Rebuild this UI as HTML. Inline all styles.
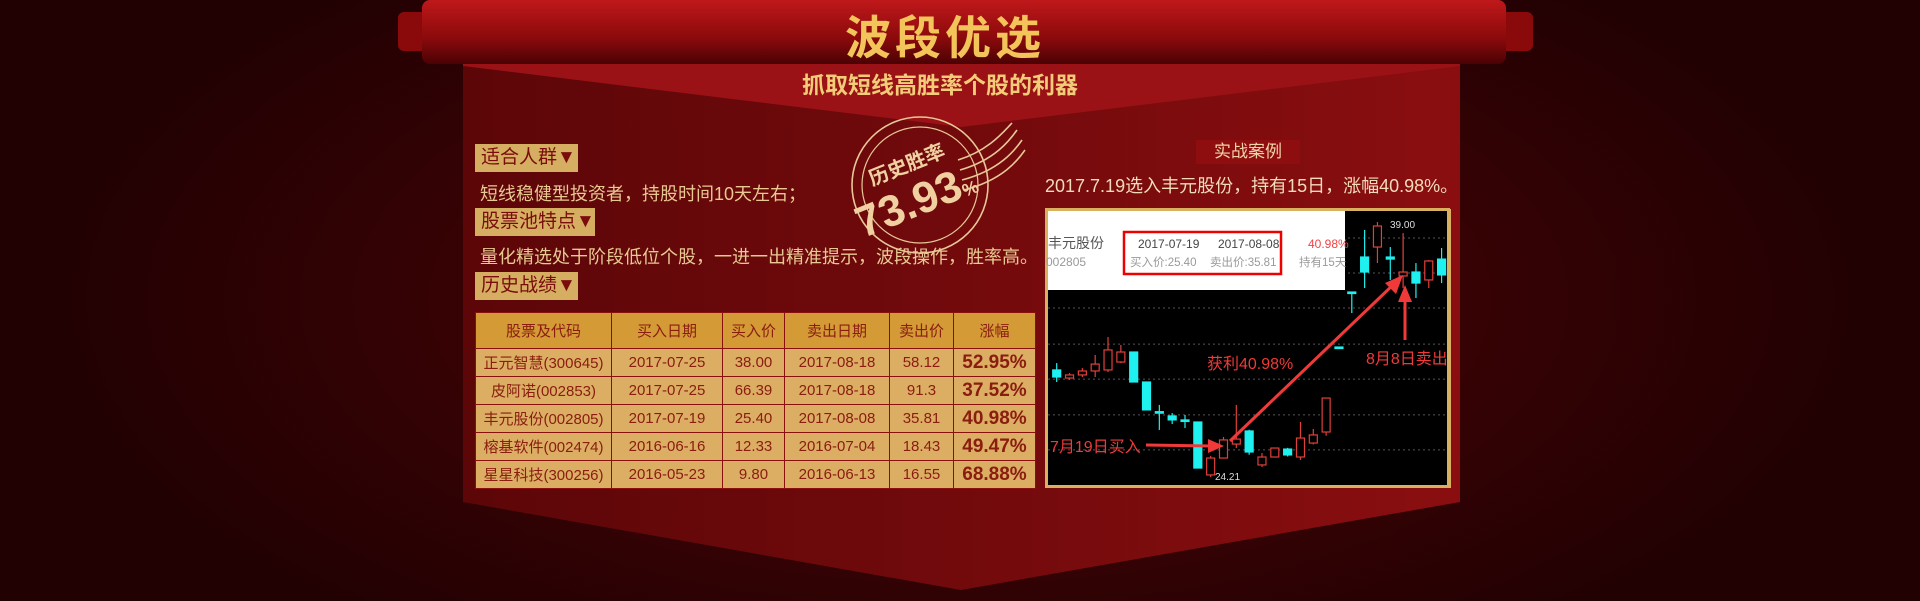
<!DOCTYPE html>
<html><head><meta charset="utf-8"><style>
*{margin:0;padding:0;box-sizing:border-box}
body{width:1920px;height:601px;overflow:hidden;position:relative;font-family:"Liberation Sans","Noto Sans CJK SC",sans-serif;
background:radial-gradient(ellipse 900px 420px at 960px 300px,#5a0508 0%,#3c0204 45%,#220103 100%);}
.abs{position:absolute}
.lbl{position:absolute;background:#d6ae62;color:#7a0c0c;font-size:19px;line-height:28px;padding-left:6px;}
.txt{position:absolute;color:#e9c992;font-size:18px;white-space:nowrap}
table{position:absolute;left:475px;top:312px;width:560px;border-collapse:collapse;table-layout:fixed;font-size:15px;color:#8a1c10}
td,th{border:1px solid #8a1010;text-align:center;font-weight:normal;height:28px;padding:0;white-space:nowrap;overflow:hidden}
th{background:#d39a36;height:36px}
td{background:#dcae64}
td.p{font-weight:bold;font-size:19px}
</style></head><body>
<svg class="abs" style="left:0;top:0" width="1920" height="601">
 <defs>
  <linearGradient id="rib" x1="0" y1="0" x2="0" y2="1"><stop offset="0" stop-color="#c0181a"/><stop offset="0.6" stop-color="#8a0a0c"/><stop offset="1" stop-color="#4a0204"/></linearGradient>
  <linearGradient id="pan" x1="0" y1="0" x2="1" y2="0"><stop offset="0" stop-color="#5c0608"/><stop offset="0.5" stop-color="#720a0c"/><stop offset="1" stop-color="#8a0e10"/></linearGradient>
 </defs>
 <polygon points="463,60 1460,60 1460,502 961,590 463,502" fill="url(#pan)"/>
 <polygon points="463,60 1460,60 1460,66 961,127 463,66" fill="#9a1216"/>
 <rect x="398" y="12" width="40" height="39" rx="6" fill="#8a0a0c"/>
 <rect x="1493" y="12" width="40" height="39" rx="6" fill="#8a0a0c"/>
 <rect x="422" y="0" width="1084" height="64" rx="8" fill="url(#rib)"/>
 <g fill="none" stroke="#e8c898" stroke-width="1.6">
  <circle cx="920" cy="185" r="68"/><circle cx="920" cy="185" r="58" stroke-width="1.2"/>
  <path d="M958,160 C990,150 1005,130 1012,123"/><path d="M960,170 C995,160 1010,140 1017,130"/>
  <path d="M962,180 C1000,170 1015,150 1022,140"/><path d="M964,190 C1003,180 1018,160 1025,150"/>
 </g>
 <g transform="rotate(-22 915 185)">
  <text x="915" y="170" text-anchor="middle" font-size="20" font-weight="bold" fill="#f0d0a0" font-family="Liberation Sans,Noto Sans CJK SC,sans-serif">历史胜率</text>
  <text x="910" y="215" text-anchor="middle" font-size="44" font-weight="bold" fill="#f0d0a0" font-family="Liberation Sans,sans-serif">73.93<tspan font-size="18">%</tspan></text>
 </g>
</svg>
<div class="abs" style="left:780px;top:2px;width:330px;text-align:center;font-size:46px;font-weight:bold;color:#f2c45a;letter-spacing:4px">波段优选</div>
<div class="abs" style="left:760px;top:66px;width:360px;text-align:center;font-size:23px;font-weight:bold;color:#f2cc78">抓取短线高胜率个股的利器</div>
<div class="lbl" style="left:475px;top:144px;width:103px">适合人群▼</div>
<div class="txt" style="left:480px;top:180px">短线稳健型投资者，持股时间10天左右；</div>
<div class="lbl" style="left:475px;top:208px;width:120px">股票池特点▼</div>
<div class="txt" style="left:480px;top:243px">量化精选处于阶段低位个股，一进一出精准提示，波段操作，胜率高。</div>
<div class="lbl" style="left:475px;top:272px;width:103px">历史战绩▼</div>
<table>
<colgroup><col style="width:136px"><col style="width:111px"><col style="width:62px"><col style="width:105px"><col style="width:64px"><col style="width:82px"></colgroup>
<tr><th>股票及代码</th><th>买入日期</th><th>买入价</th><th>卖出日期</th><th>卖出价</th><th>涨幅</th></tr>
<tr><td>正元智慧(300645)</td><td>2017-07-25</td><td>38.00</td><td>2017-08-18</td><td>58.12</td><td class="p">52.95%</td></tr>
<tr><td>皮阿诺(002853)</td><td>2017-07-25</td><td>66.39</td><td>2017-08-18</td><td>91.3</td><td class="p">37.52%</td></tr>
<tr><td>丰元股份(002805)</td><td>2017-07-19</td><td>25.40</td><td>2017-08-08</td><td>35.81</td><td class="p">40.98%</td></tr>
<tr><td>榕基软件(002474)</td><td>2016-06-16</td><td>12.33</td><td>2016-07-04</td><td>18.43</td><td class="p">49.47%</td></tr>
<tr><td>星星科技(300256)</td><td>2016-05-23</td><td>9.80</td><td>2016-06-13</td><td>16.55</td><td class="p">68.88%</td></tr>
</table>
<div class="abs" style="left:1196px;top:140px;width:104px;height:24px;background:#8e0e10;color:#f0d4a8;font-size:17px;text-align:center;line-height:24px">实战案例</div>
<div class="txt" style="left:1045px;top:172px;color:#f2dcb8;font-size:18px">2017.7.19选入丰元股份，持有15日，涨幅40.98%。</div>
<svg id="chart" class="abs" style="left:0;top:0" width="1920" height="601"></svg>
<script>
const opens =[30.42,29.95,30.13,30.36,30.42,30.88,31.46,29.72,28.00,27.75,27.52,27.40,24.33,25.31,26.12,26.88,24.91,25.37,25.83,25.37,26.18,26.82,31.75,34.94,36.97,37.55,36.97,35.87,36.10,35.64,36.85];
const closes=[30.01,30.13,30.36,30.76,31.58,31.46,29.72,28.10,27.95,27.52,27.50,24.73,25.31,26.36,26.41,25.66,25.37,25.89,25.49,26.47,26.65,28.79,31.70,34.90,36.10,38.77,36.85,36.10,35.46,36.74,35.93];
const highs =[30.82,30.24,30.53,31.29,32.33,31.87,31.46,29.72,28.39,27.92,27.81,27.40,25.43,26.53,28.39,26.95,25.60,25.89,25.90,27.40,27.00,28.79,31.75,34.94,38.54,39.00,37.55,38.36,36.62,36.80,37.49];
const lows  =[29.72,29.84,30.01,30.01,30.30,30.82,29.72,28.10,26.94,27.28,27.05,24.73,24.21,25.31,25.89,25.50,24.79,25.37,25.40,25.20,26.10,26.60,31.70,33.72,35.17,36.62,35.64,35.17,34.59,35.17,35.46];
const gridPrices=[38.07,36.04,34.01,31.92,29.89,27.81,25.78];
const priceLabels=["39.00","24.21"];
const svg=document.getElementById('chart');const NS='http://www.w3.org/2000/svg';
const xS=i=>1056.7+i*12.83, yS=p=>477-(p-24.21)*17.24;
function mk(t,a,p){const e=document.createElementNS(NS,t);for(const k in a)e.setAttribute(k,a[k]);(p||svg).appendChild(e);return e;}
const bg=mk('rect',{x:1046.5,y:209.5,width:402,height:277,fill:'#000',stroke:'#d8b060','stroke-width':3});


gridPrices.forEach(p=>{const l=mk('line',{x1:1048,x2:1447,y1:yS(p),y2:yS(p),stroke:'#555','stroke-dasharray':'2,3'});

});
opens.forEach((o,i)=>{const c=closes[i],up=c>=o,col=up?'#e0403a':'#1ff0f0',x=xS(i);
const g=mk('g',{});


mk('line',{x1:x,x2:x,y1:yS(highs[i]),y2:yS(lows[i]),stroke:col,'stroke-width':1.2},g);
const t=yS(Math.max(o,c)),h=Math.max(1.5,Math.abs(yS(o)-yS(c)));
mk('rect',{x:x-4,y:t,width:8,height:h,fill:up?'#000':col,stroke:col,'stroke-width':1.2},g);});
const ts=(x,y,s,a)=>{const e=mk('text',Object.assign({x:x,y:y,'font-family':'Liberation Sans,Noto Sans CJK SC,sans-serif'},a));e.textContent=s;return e;};
const l1=ts(1390,228,priceLabels[0],{fill:'#ddd','font-size':10});


const l2=ts(1215,480,priceLabels[1],{fill:'#ddd','font-size':10});


const box=mk('g',{});


mk('rect',{x:1048,y:211,width:297,height:79,fill:'#fff'},box);
mk('rect',{x:1124,y:232,width:157,height:42,fill:'none',stroke:'#e00','stroke-width':2.5},box);
[[1048,248,'丰元股份','#555',14],[1046,266,'002805','#999',12],[1138,248,'2017-07-19','#444',12],[1218,248,'2017-08-08','#444',12],[1130,266,'买入价:25.40','#999',11.5],[1210,266,'卖出价:35.81','#999',11.5],[1308,248,'40.98%','#e44',12],[1299,266,'持有15天','#999',11.5]].forEach(a=>{const e=ts(a[0],a[1],a[2],{fill:a[3],'font-size':a[4]});box.appendChild(e);});
const ar=mk('g',{fill:'#f03a3a',stroke:'#f03a3a'});


mk('line',{x1:1146,y1:445,x2:1212,y2:446,'stroke-width':3},ar);
mk('polygon',{points:'1224,446 1208,439 1208,453',stroke:'none'},ar);
mk('line',{x1:1230,y1:441,x2:1395,y2:283,'stroke-width':3},ar);
mk('polygon',{points:'1403,275 1385,283 1396,294',stroke:'none'},ar);
mk('line',{x1:1405,y1:340,x2:1405,y2:298,'stroke-width':3},ar);
mk('polygon',{points:'1405,285 1398,302 1412,302',stroke:'none'},ar);
ts(1050,452,'7月19日买入',{fill:'#f03a3a','font-size':16,'stroke':'none'});
ts(1207,369,'获利40.98%',{fill:'#f03a3a','font-size':16});
ts(1366,364,'8月8日卖出',{fill:'#f03a3a','font-size':16});
mk('rect',{x:1448,y:209,width:3,height:279,fill:'#d8b060'});
</script>
</body></html>
